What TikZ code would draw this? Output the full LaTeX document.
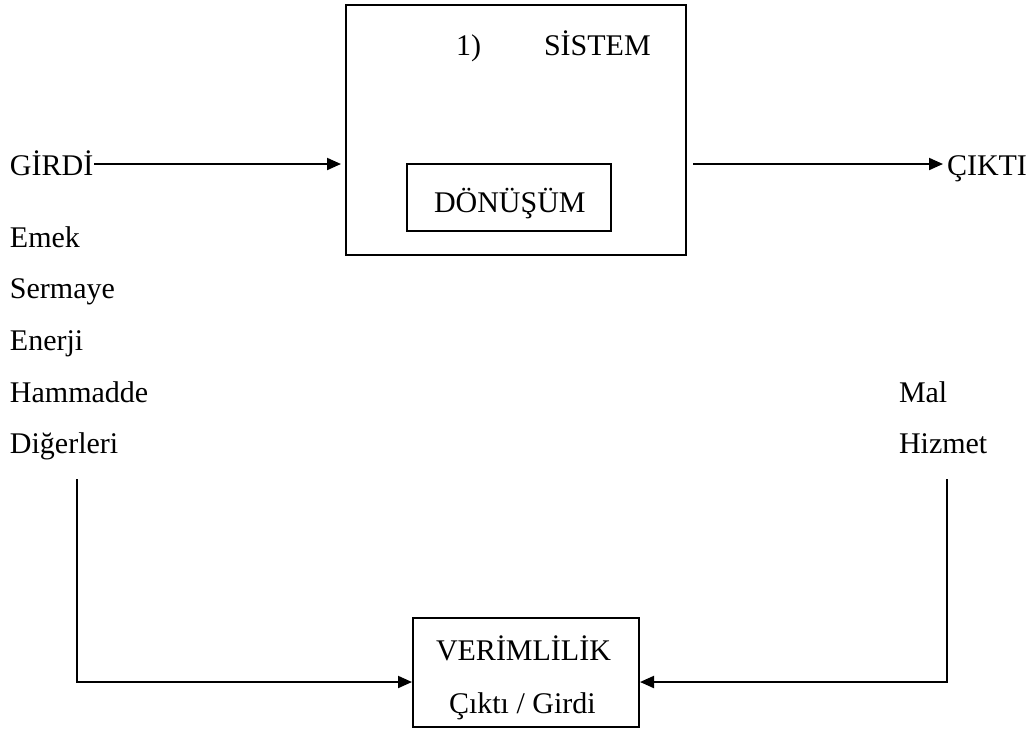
\documentclass[tikz,border=0pt]{standalone}
\usepackage{fontspec}
\setmainfont{Liberation Serif}
\usetikzlibrary{arrows.meta}

\tikzset{every picture/.style={line width=1pt}}
\tikzset{
  kutu/.style={draw, line width=1pt, inner sep=0pt},
  yazi/.style={anchor=base west, inner sep=0pt, font=\fontsize{15pt}{18pt}\selectfont},
  ok/.style={line width=1pt, -{Triangle[length=7pt,width=6pt]}}
}

\begin{document}
\begin{tikzpicture}[x=0.5pt,y=0.5pt,yscale=-1,xscale=1]
\useasboundingbox (0,0) rectangle (1029,730);

%Shape: Rectangle [sistem]
\node [kutu, minimum width=170pt, minimum height=125pt] (sistem) at (516,130) {};
%Shape: Rectangle [donusum]
\node [kutu, minimum width=102pt, minimum height=33.5pt] (donusum) at (509,197.5) {};
%Shape: Rectangle [verim]
\node [kutu, minimum width=113pt, minimum height=54.5pt] (verim) at (526,672.5) {};

% Text Node
\node [yazi] (no) at (455,55) {1)};
% Text Node
\node [yazi] (sistemyazi) at (543,55) {SİSTEM};
% Text Node
\node [yazi] (donusumyazi) at (433,212) {DÖNÜŞÜM};
% Text Node
\node [yazi] (girdi) at (9,175) {GİRDİ};
% Text Node
\node [yazi] (cikti) at (946,175) {ÇIKTI};
% Text Node
\node [yazi] (emek) at (9,247) {Emek};
% Text Node
\node [yazi] (sermaye) at (9,298) {Sermaye};
% Text Node
\node [yazi] (enerji) at (9,350) {Enerji};
% Text Node
\node [yazi] (hammadde) at (9,402) {Hammadde};
% Text Node
\node [yazi] (digerleri) at (9,453) {Diğerleri};
% Text Node
\node [yazi] (mal) at (898,402) {Mal};
% Text Node
\node [yazi] (hizmet) at (898,453) {Hizmet};
% Text Node
\node [yazi] (verimyazi) at (435,660) {VERİMLİLİK};
% Text Node
\node [yazi] (oran) at (448,713) {Çıktı / Girdi};

%Straight Lines
\coordinate (gy) at (0,164);
\draw [ok, shorten >=2pt] (girdi.east |- gy) -- (sistem.west |- gy);
\draw [ok, shorten <=3pt] (sistem.east |- gy) -- ([xshift=-1.5pt]cikti.west |- gy);

%Straight Lines
\coordinate (sol1) at (77,479);
\coordinate (sol2) at (77,682);
\coordinate (sag1) at (947,479);
\coordinate (sag2) at (947,682);
\draw [ok] (sol1) -- (sol2) -- (verim.west |- sol2);
\draw [ok] (sag1) -- (sag2) -- (verim.east |- sag2);

\end{tikzpicture}
\end{document}
